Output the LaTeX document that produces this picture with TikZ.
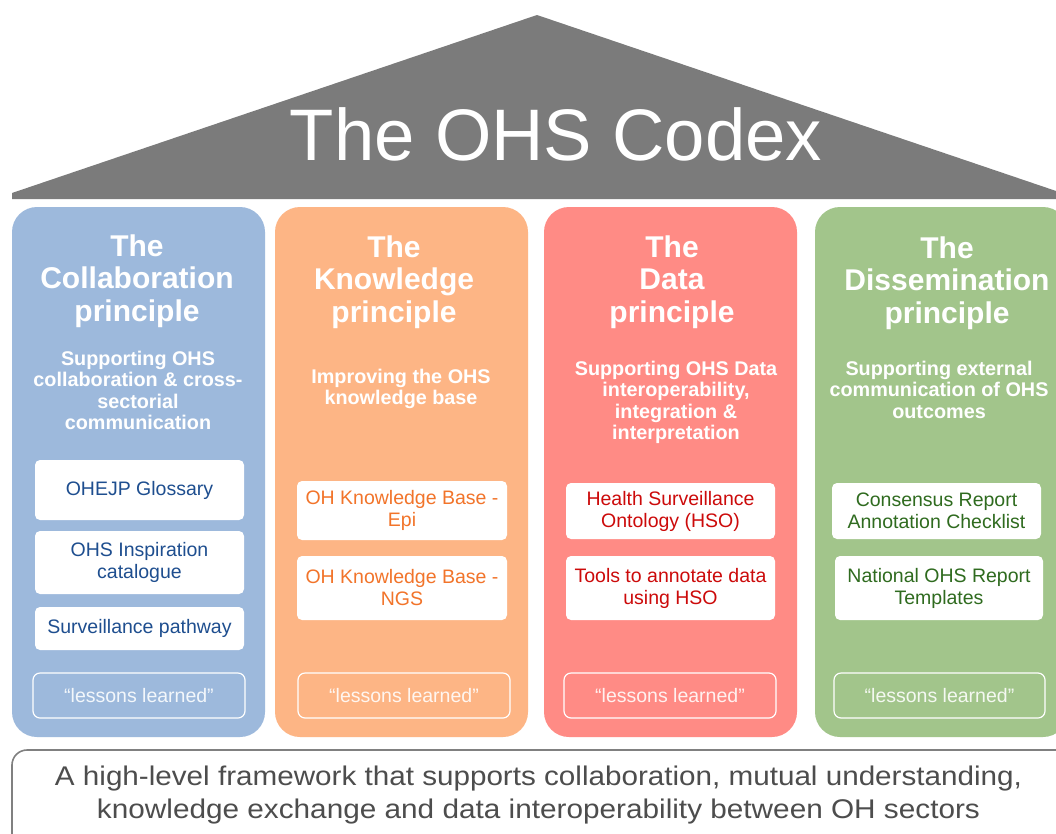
\documentclass[tikz,border=0pt]{standalone}
\usepackage{fontspec}
\usepackage{graphicx}
\setmainfont{Liberation Sans}
\definecolor{roofgray}{HTML}{7B7B7B}
\definecolor{cblue}{HTML}{9DB9DC}
\definecolor{corange}{HTML}{FDB585}
\definecolor{cred}{HTML}{FF8B85}
\definecolor{cgreen}{HTML}{A2C58B}
\definecolor{tblue}{HTML}{1E4E8F}
\definecolor{torange}{HTML}{F2742A}
\definecolor{tred}{HTML}{CC0A0A}
\definecolor{tgreen}{HTML}{2F6B1F}
\definecolor{tgray}{HTML}{4D4D4D}
\definecolor{bgray}{HTML}{808080}
\newcommand\stk[1]{\begin{tabular}[t]{@{}c@{}}#1\end{tabular}}
\begin{document}
\begin{tikzpicture}[x=1pt,y=-1pt,
  colbox/.style={rounded corners=25pt},
  ttl/.style={anchor=base, text=white, inner sep=0pt, font=\bfseries\fontsize{30}{32.5}\selectfont},
  sub/.style={anchor=base, text=white, inner sep=0pt, font=\bfseries\fontsize{19.8}{21.5}\selectfont},
  item/.style={fill=white, rounded corners=5pt, align=center, inner sep=0pt, font=\fontsize{19.5}{22}\selectfont},
  lesson/.style={draw=white, line width=1.2pt, rounded corners=7pt, inner sep=0pt, font=\fontsize{19.5}{22}\selectfont}]
\useasboundingbox (0,0) rectangle (1056,833);
\fill[white] (0,0) rectangle (1056,833);
% roof
\fill[roofgray] (12,199) -- (12,193) -- (537,15) -- (1062,193) -- (1062,199) -- cycle;
\node[anchor=base, text=white, inner sep=0pt, font=\fontsize{73}{80}\selectfont] (title) at (556,160) {\resizebox{532pt}{\height}{The OHS Codex}};
% columns
\fill[cblue, colbox] (12,207) rectangle (265,737);
\fill[corange, colbox] (275,207) rectangle (528,737);
\fill[cred, colbox] (544,207) rectangle (797,737);
\fill[cgreen, colbox] (815,207) rectangle (1068,737);
% titles
\node[ttl] (t1) at (137,256) {\stk{The\\Collaboration\\principle}};
\node[ttl] (t2) at (394,257) {\stk{The\\Knowledge\\principle}};
\node[ttl] (t3) at (672,257) {\stk{The\\Data\\principle}};
\node[ttl] (t4) at (947,258) {\stk{The\\Dissemination\\principle}};
% subtitles
\node[sub] (s1) at (138,365) {\stk{Supporting OHS\\collaboration \& cross-\\sectorial\\communication}};
\node[sub] (s2) at (401,383) {\stk{Improving the OHS\\knowledge base}};
\node[sub] (s3) at (676,375) {\stk{Supporting OHS Data\\interoperability,\\integration \&\\interpretation}};
\node[sub] (s4) at (939,375) {\stk{Supporting external\\communication of OHS\\outcomes}};
% items column 1
\node[item, text=tblue, minimum width=209pt, minimum height=60pt] (i1a) at (139.5,490) {OHEJP Glossary};
\node[item, text=tblue, minimum width=209pt, minimum height=63pt] (i1b) at (139.5,562.5) {OHS Inspiration\\catalogue};
\node[item, text=tblue, minimum width=209pt, minimum height=43pt] (i1c) at (139.5,628.5) {Surveillance pathway};
% items column 2
\node[item, text=torange, minimum width=210pt, minimum height=59pt] (i2a) at (402,510.5) {OH Knowledge Base -\\Epi};
\node[item, text=torange, minimum width=210pt, minimum height=64pt] (i2b) at (402,588) {OH Knowledge Base -\\NGS};
% items column 3
\node[item, text=tred, minimum width=209pt, minimum height=56pt] (i3a) at (670.5,511) {Health Surveillance\\Ontology (HSO)};
\node[item, text=tred, minimum width=209pt, minimum height=64pt] (i3b) at (670.5,588) {Tools to annotate data\\using HSO};
% items column 4
\node[item, text=tgreen, minimum width=209pt, minimum height=56pt] (i4a) at (936.5,511) {Consensus Report\\Annotation Checklist};
\node[item, text=tgreen, minimum width=208pt, minimum height=64pt] (i4b) at (939,588) {National OHS Report\\Templates};
% lessons learned
\node[lesson, text=white!88!cblue, minimum width=212pt, minimum height=45pt] (l1) at (139,695.5) {“lessons learned”};
\node[lesson, text=white!88!corange, minimum width=212pt, minimum height=45pt] (l2) at (404,695.5) {“lessons learned”};
\node[lesson, text=white!88!cred, minimum width=212pt, minimum height=45pt] (l3) at (670,695.5) {“lessons learned”};
\node[lesson, text=white!88!cgreen, minimum width=211pt, minimum height=45pt] (l4) at (939.5,695.5) {“lessons learned”};
% bottom box
\draw[bgray, line width=1.6pt, rounded corners=15pt] (12,750) rectangle (1075,850);
\node[anchor=base, text=tgray, inner sep=0pt, font=\fontsize{27}{33}\selectfont] (f1) at (538.5,785) {\resizebox{967pt}{\height}{A high-level framework that supports collaboration, mutual understanding,}};
\node[anchor=base, text=tgray, inner sep=0pt, font=\fontsize{27}{33}\selectfont] (f2) at (538.5,818) {\resizebox{883pt}{\height}{knowledge exchange and data interoperability between OH sectors}};
\end{tikzpicture}
\end{document}
